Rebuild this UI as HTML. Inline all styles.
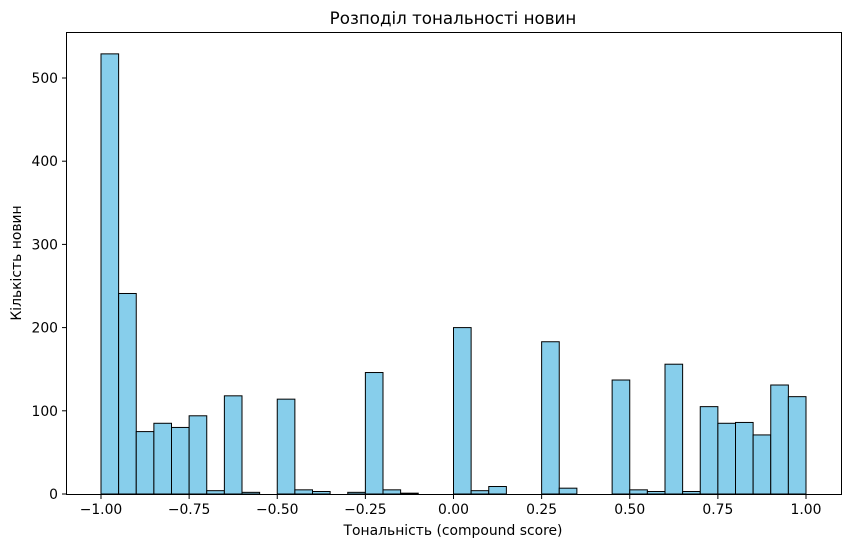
<!DOCTYPE html>
<html><head><meta charset="utf-8"><style>
body{margin:0;background:#fff;}
text{font-family:"DejaVu Sans","Liberation Sans",sans-serif;fill:#000;}
</style></head><body>
<svg id="chart" width="850" height="547" xmlns="http://www.w3.org/2000/svg">
<rect width="850" height="547" fill="#fff"/>
<text x="453" y="24" font-size="16.7" text-anchor="middle">Розподіл тональності новин</text>
<text x="453" y="535" font-size="13.9" text-anchor="middle">Тональність (compound score)</text>
<text transform="translate(21,263) rotate(-90)" font-size="13.9" text-anchor="middle">Кількість новин</text>
<g id="bars"></g>
<g id="axes"></g>
<rect x="66.5" y="32.5" width="775" height="462" fill="none" stroke="#000" stroke-width="1"/>
</svg>
<script>
const binStart = -1.0;
const binWidth = 0.05;
const counts = [529,241,75,85,80,94,4,118,2,0,114,5,3,0,2,146,5,1,0,0,200,4,9,0,0,183,7,0,0,137,5,3,156,3,105,85,86,71,131,117];
const xTicks = [-1.00,-0.75,-0.50,-0.25,0.00,0.25,0.50,0.75,1.00];
const xTickLabels = ["−1.00","−0.75","−0.50","−0.25","0.00","0.25","0.50","0.75","1.00"];
const yTicks = [0,100,200,300,400,500];
const NS="http://www.w3.org/2000/svg";
function xs(v){return 101+(v+1)*352.5;}
function ys(v){return 494-v*0.832;}
const bars=document.getElementById('bars');
counts.forEach((c,i)=>{
  if(c<=0)return;
  const x0=binStart+i*binWidth;
  const r=document.createElementNS(NS,'rect');
  r.setAttribute('x',xs(x0));
  r.setAttribute('y',ys(c));
  r.setAttribute('width',xs(x0+binWidth)-xs(x0));
  r.setAttribute('height',ys(0)-ys(c));
  r.setAttribute('fill','#87ceeb');
  r.setAttribute('stroke','#000');
  r.setAttribute('stroke-width','1');
  
  
  bars.appendChild(r);
});
const axes=document.getElementById('axes');
xTicks.forEach((t,i)=>{
  const x=xs(t);
  const l=document.createElementNS(NS,'line');
  l.setAttribute('x1',x);l.setAttribute('x2',x);l.setAttribute('y1',494.5);l.setAttribute('y2',499);
  l.setAttribute('stroke','#000');
  
  
  axes.appendChild(l);
  const tx=document.createElementNS(NS,'text');
  tx.setAttribute('x',x);tx.setAttribute('y',514);tx.setAttribute('font-size','13.9');tx.setAttribute('text-anchor','middle');
  tx.textContent=xTickLabels[i];
  
  
  axes.appendChild(tx);
});
yTicks.forEach(t=>{
  const y=ys(t);
  const l=document.createElementNS(NS,'line');
  l.setAttribute('x1',62);l.setAttribute('x2',66.5);l.setAttribute('y1',y);l.setAttribute('y2',y);
  l.setAttribute('stroke','#000');
  
  
  axes.appendChild(l);
  const tx=document.createElementNS(NS,'text');
  tx.setAttribute('x',58);tx.setAttribute('y',y+5);tx.setAttribute('font-size','13.9');tx.setAttribute('text-anchor','end');
  tx.textContent=t;
  
  
  axes.appendChild(tx);
});
</script>
</body></html>
